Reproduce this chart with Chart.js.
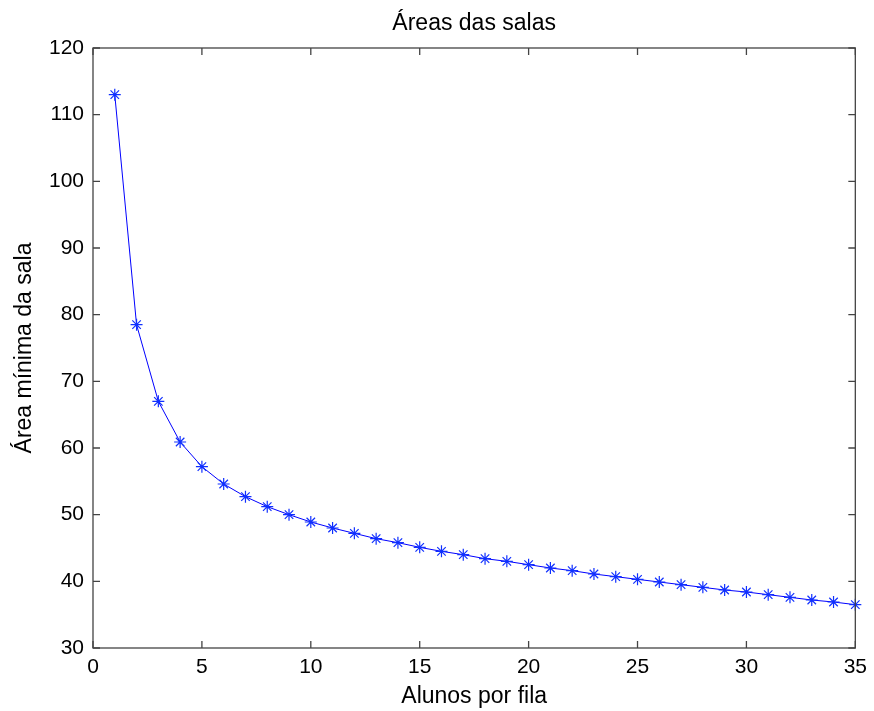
<!DOCTYPE html>
<html>
<head>
  <meta charset="UTF-8">
  <title>Áreas das salas</title>
  <script src="https://cdn.jsdelivr.net/npm/chart.js"></script>
  <style>
    html, body { margin: 0; padding: 0; background: #fff; }
    #wrap { width: 874px; height: 711px; }
  </style>
</head>
<body>
  <div id="wrap"><canvas id="chart"></canvas></div>
  <script>
    const alunos = [1, 2, 3, 4, 5, 6, 7, 8, 9, 10, 11, 12, 13, 14, 15, 16, 17, 18,
      19, 20, 21, 22, 23, 24, 25, 26, 27, 28, 29, 30, 31, 32, 33, 34, 35];
    const areas = [113.0, 78.5, 67.0, 60.9, 57.2, 54.6, 52.7, 51.2, 50.0, 48.9,
      48.0, 47.2, 46.4, 45.8, 45.1, 44.5, 44.0, 43.4, 43.0, 42.5,
      42.0, 41.6, 41.1, 40.7, 40.3, 39.9, 39.5, 39.1, 38.7, 38.4,
      38.0, 37.6, 37.2, 36.9, 36.5];
    const xTicks = [0, 5, 10, 15, 20, 25, 30, 35];
    const yTicks = [30, 40, 50, 60, 70, 80, 90, 100, 110, 120];

    const tickFont = { family: 'Arial, "Liberation Sans", sans-serif', size: 21 };
    const titleFont = { family: 'Arial, "Liberation Sans", sans-serif', size: 23 };

    // matlab style box with inward ticks on all sides
    const boxPlugin = {
      id: 'box',
      afterDraw(chart) {
        const { ctx, chartArea: a, scales } = chart;
        const len = 7;
        ctx.save();
        ctx.strokeStyle = '#444';
        ctx.lineWidth = 1.3;
        ctx.strokeRect(a.left, a.top, a.right - a.left, a.bottom - a.top);
        ctx.beginPath();
        xTicks.forEach(v => {
          const px = scales.x.getPixelForValue(v);
          ctx.moveTo(px, a.bottom); ctx.lineTo(px, a.bottom - len);
          ctx.moveTo(px, a.top); ctx.lineTo(px, a.top + len);
        });
        yTicks.forEach(v => {
          const py = scales.y.getPixelForValue(v);
          ctx.moveTo(a.left, py); ctx.lineTo(a.left + len, py);
          ctx.moveTo(a.right, py); ctx.lineTo(a.right - len, py);
        });
        ctx.stroke();
        ctx.restore();
      }
    };

    new Chart(document.getElementById('chart'), {
      type: 'line',
      data: {
        datasets: [{
          data: alunos.map((a, i) => ({ x: a, y: areas[i] })),
          borderColor: '#0000ff',
          backgroundColor: '#0000ff',
          borderWidth: 1,
          pointStyle: 'star',
          pointRadius: 6,
          pointBorderWidth: 1.2,
          pointBorderColor: '#1030ff',
          tension: 0,
          clip: false
        }]
      },
      options: {
        responsive: true,
        maintainAspectRatio: false,
        animation: false,
        layout: { padding: { left: 0, right: 16, top: 0, bottom: 0 } },
        plugins: {
          legend: { display: false },
          tooltip: { enabled: false }
        },
        scales: {
          x: {
            type: 'linear',
            min: 0,
            max: 35,
            afterFit: s => { s.height = 63; },
            afterBuildTicks: s => { s.ticks = xTicks.map(v => ({ value: v })); },
            grid: { display: false, drawTicks: false },
            border: { display: false },
            ticks: { color: '#000', font: tickFont, padding: 7, maxRotation: 0 },
            title: { display: true, text: 'Alunos por fila', color: '#000', font: titleFont, padding: { top: 0, bottom: 1 } }
          },
          x2: {
            type: 'linear',
            position: 'top',
            min: 0,
            max: 35,
            afterFit: s => { s.height = 48; },
            grid: { display: false, drawTicks: false },
            border: { display: false },
            ticks: { display: false },
            title: { display: true, text: 'Áreas das salas', color: '#000', font: titleFont, padding: { top: 10, bottom: 0 } }
          },
          y: {
            min: 30,
            max: 120,
            afterFit: s => { s.width = 93; },
            afterBuildTicks: s => { s.ticks = yTicks.map(v => ({ value: v })); },
            grid: { display: false, drawTicks: false },
            border: { display: false },
            ticks: { color: '#000', font: tickFont, padding: 9 },
            title: { display: true, text: 'Área mínima da sala', color: '#000', font: titleFont, padding: { top: 11, bottom: 0 } }
          }
        }
      },
      plugins: [boxPlugin]
    });
  </script>
</body>
</html>
